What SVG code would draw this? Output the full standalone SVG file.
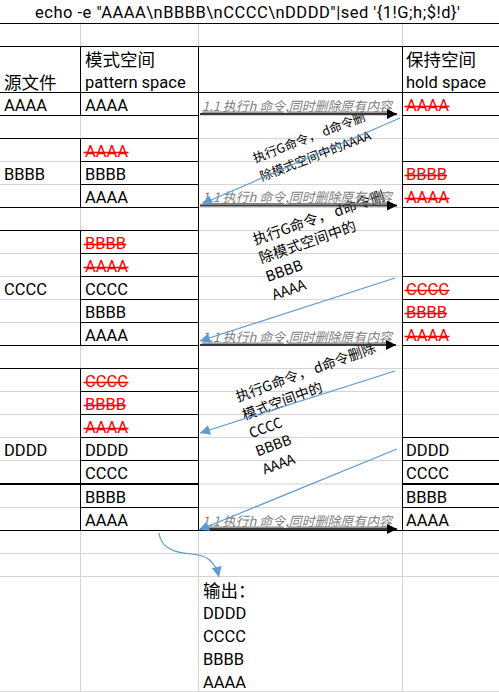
<svg xmlns="http://www.w3.org/2000/svg" width="499" height="692" viewBox="0 0 499 692">
<style>
.t{font-family:Roboto,"Noto Sans CJK SC",sans-serif;font-size:16.5px;fill:#000}
.c{font-family:"Noto Sans CJK SC",sans-serif;font-size:17.5px;fill:#000}
.r{fill:#f00}
.lbl{font-family:"Noto Sans CJK SC",sans-serif;font-size:13px;font-style:italic;fill:#808080;text-decoration:underline}
.rot{font-family:"Noto Sans CJK SC",sans-serif;fill:#000}
.g{stroke:#d4d4d4;stroke-width:1;fill:none}
.k{stroke:#000;stroke-width:1;fill:none}
.k2{stroke:#000;stroke-width:2;fill:none}
.s{stroke:#f00;stroke-width:1.4}
.arr{stroke:#3a3a3a;stroke-width:2;fill:none}
.blue{stroke:#5b9bd5;stroke-width:1.2;fill:none}
</style>
<defs>
<marker id="ah" viewBox="0 0 10 10" refX="10" refY="5" markerUnits="userSpaceOnUse" markerWidth="11" markerHeight="10" orient="auto"><path d="M0,0L10,5L0,10z" fill="#000"/></marker>
<marker id="bh" viewBox="0 0 10 10" refX="10" refY="5" markerUnits="userSpaceOnUse" markerWidth="12" markerHeight="10" orient="auto"><path d="M0,0L10,5L0,10z" fill="#5b9bd5"/></marker>
</defs>
<rect width="499" height="692" fill="#fff"/>
<g id="grid">
<path class="g" d="M80.5,23.5V46.5M198.5,23.5V46.5M402.5,23.5V46.5
M0,161.5H80M0,184.5H80M0,253.5H80M0,276.5H80M0,299.5H80M0,322.5H80M0,391.5H80M0,414.5H80M0,437.5H80M0,460.5H80M0,507.5H80
M198,115.5H402M198,138.5H402M198,161.5H402M198,184.5H402M198,207.5H402M198,230.5H402M198,253.5H402M198,276.5H402M198,299.5H402M198,322.5H402M198,345.5H402M198,368.5H402M198,391.5H402M198,414.5H402M198,437.5H402M198,460.5H402M198,484H402M198,507.5H402
M402,138.5H499M402,230.5H499M402,253.5H499M402,368.5H499M402,391.5H499M402,414.5H499
M80.5,115.5V138.5M80.5,207.5V230.5M80.5,345.5V368.5
M0,553.5H499M0,576.5H499M0,691.5H499M80.5,530.5V691.5M198.5,530.5V691.5M402.5,530.5V691.5"/>
<path class="k" d="M0,23.5H499M0,46.5H499M0,92.5H499M0,530.5H499
M0,115.5H198M0,138.5H198M0,207.5H198M0,230.5H198M0,345.5H198M0,368.5H198
M80,161.5H198M80,184.5H198M80,253.5H198M80,276.5H198M80,299.5H198M80,322.5H198M80,391.5H198M80,414.5H198M80,437.5H198M80,460.5H198M80,507.5H198
M402,115.5H499M402,161.5H499M402,184.5H499M402,207.5H499M402,276.5H499M402,299.5H499M402,322.5H499M402,345.5H499M402,437.5H499M402,460.5H499M402,507.5H499
M80.5,46.5V115.5M80.5,138.5V207.5M80.5,230.5V345.5M80.5,368.5V530.5M198.5,46.5V530.5M402.5,46.5V530.5"/>
<path class="k2" d="M0,484H198M402,484H499"/>
</g>
<g id="title"><text class="t" x="35" y="18" textLength="425" lengthAdjust="spacing">echo -e "AAAA\nBBBB\nCCCC\nDDDD"|sed '{1!G;h;$!d}'</text></g>
<g id="hdr-src"><text class="c" x="4" y="88.5">源文件</text></g>
<g id="hdr-pattern"><text class="c" x="85" y="65.5">模式空间</text><text class="t" x="85" y="88">pattern space</text></g>
<g id="hdr-hold"><text class="c" x="406" y="65.5">保持空间</text><text class="t" x="406" y="88">hold space</text></g>
<g id="source">
<text class="t" x="4" y="111">AAAA</text>
<text class="t" x="4" y="180">BBBB</text>
<text class="t" x="4" y="295">CCCC</text>
<text class="t" x="4" y="456">DDDD</text>
</g>
<g id="pattern">
<text class="t" x="85" y="111">AAAA</text>
<text class="t r" x="85" y="157">AAAA</text><line class="s" x1="83.5" y1="152.5" x2="128.5" y2="152.5"/>
<text class="t" x="85" y="180">BBBB</text>
<text class="t" x="85" y="203">AAAA</text>
<text class="t r" x="85" y="249">BBBB</text><line class="s" x1="83.5" y1="244.5" x2="126" y2="244.5"/>
<text class="t r" x="85" y="272">AAAA</text><line class="s" x1="83.5" y1="267.5" x2="128.5" y2="267.5"/>
<text class="t" x="85" y="295">CCCC</text>
<text class="t" x="85" y="318">BBBB</text>
<text class="t" x="85" y="341">AAAA</text>
<text class="t r" x="85" y="387">CCCC</text><line class="s" x1="83.5" y1="382.5" x2="128.5" y2="382.5"/>
<text class="t r" x="85" y="410">BBBB</text><line class="s" x1="83.5" y1="405.5" x2="126" y2="405.5"/>
<text class="t r" x="85" y="433">AAAA</text><line class="s" x1="83.5" y1="428.5" x2="128.5" y2="428.5"/>
<text class="t" x="85" y="456">DDDD</text>
<text class="t" x="85" y="479">CCCC</text>
<text class="t" x="85" y="503">BBBB</text>
<text class="t" x="85" y="526">AAAA</text>
</g>
<g id="hold">
<text class="t r" x="406" y="111">AAAA</text><line class="s" x1="404.5" y1="106.5" x2="449.5" y2="106.5"/>
<text class="t r" x="406" y="180">BBBB</text><line class="s" x1="404.5" y1="175.5" x2="447" y2="175.5"/>
<text class="t r" x="406" y="203">AAAA</text><line class="s" x1="404.5" y1="198.5" x2="449.5" y2="198.5"/>
<text class="t r" x="406" y="295">CCCC</text><line class="s" x1="404.5" y1="290.5" x2="449.5" y2="290.5"/>
<text class="t r" x="406" y="318">BBBB</text><line class="s" x1="404.5" y1="313.5" x2="447" y2="313.5"/>
<text class="t r" x="406" y="341">AAAA</text><line class="s" x1="404.5" y1="336.5" x2="449.5" y2="336.5"/>
<text class="t" x="406" y="456">DDDD</text>
<text class="t" x="406" y="479">CCCC</text>
<text class="t" x="406" y="503">BBBB</text>
<text class="t" x="406" y="526">AAAA</text>
</g>
<g id="output">
<text class="c" x="203" y="597">输出：</text>
<text class="t" x="203" y="619">DDDD</text>
<text class="t" x="203" y="642">CCCC</text>
<text class="t" x="203" y="665">BBBB</text>
<text class="t" x="203" y="688">AAAA</text>
</g>
<g id="notes">
<text class="rot" font-size="12.5" transform="rotate(-21 255 163)"><tspan x="255" y="163">执行G命令， d命令删</tspan><tspan x="255" dy="19.5">除模式空间中的AAAA</tspan></text>
<text class="rot" font-size="14.5" transform="rotate(-19 255 245)"><tspan x="255" y="245">执行G命令， d命令删</tspan><tspan x="255" dy="19.5">除模式空间中的</tspan><tspan x="255" dy="19.5">BBBB</tspan><tspan x="255" dy="19.5">AAAA</tspan></text>
<text class="rot" font-size="14" transform="rotate(-20 238 402)"><tspan x="238" y="402">执行G命令， d命令删除</tspan><tspan x="238" dy="19.3">模式空间中的</tspan><tspan x="238" dy="19.3">CCCC</tspan><tspan x="238" dy="19.3">BBBB</tspan><tspan x="238" dy="19.3">AAAA</tspan></text>
</g>
<g id="connectors">
<text class="lbl" x="202" y="110.5" textLength="190" lengthAdjust="spacingAndGlyphs">1.1 执行h 命令,同时删除原有内容</text>
<text class="lbl" x="202" y="202" textLength="190" lengthAdjust="spacingAndGlyphs">1.1 执行h 命令,同时删除原有内容</text>
<text class="lbl" x="202" y="341.5" textLength="190" lengthAdjust="spacingAndGlyphs">1.1 执行h 命令,同时删除原有内容</text>
<text class="lbl" x="202" y="525.5" textLength="190" lengthAdjust="spacingAndGlyphs">1.1 执行h 命令,同时删除原有内容</text>
<line class="arr" x1="200" y1="114" x2="397" y2="114" marker-end="url(#ah)"/>
<line class="arr" x1="200" y1="205.5" x2="397" y2="205.5" marker-end="url(#ah)"/>
<line class="arr" x1="200" y1="345" x2="396" y2="345" marker-end="url(#ah)"/>
<line class="arr" x1="200" y1="529" x2="397" y2="529" marker-end="url(#ah)"/>
<line class="blue" x1="400" y1="118" x2="202" y2="204" marker-end="url(#bh)"/>
<line class="blue" x1="395" y1="278" x2="200" y2="341" marker-end="url(#bh)"/>
<line class="blue" x1="395" y1="371" x2="200" y2="433" marker-end="url(#bh)"/>
<line class="blue" x1="397" y1="449" x2="199" y2="530" marker-end="url(#bh)"/>
<path class="blue" d="M159,533C161,550 178,553 192,554C205,555 215,560 219,577" marker-end="url(#bh)"/>
</g>
</svg>
